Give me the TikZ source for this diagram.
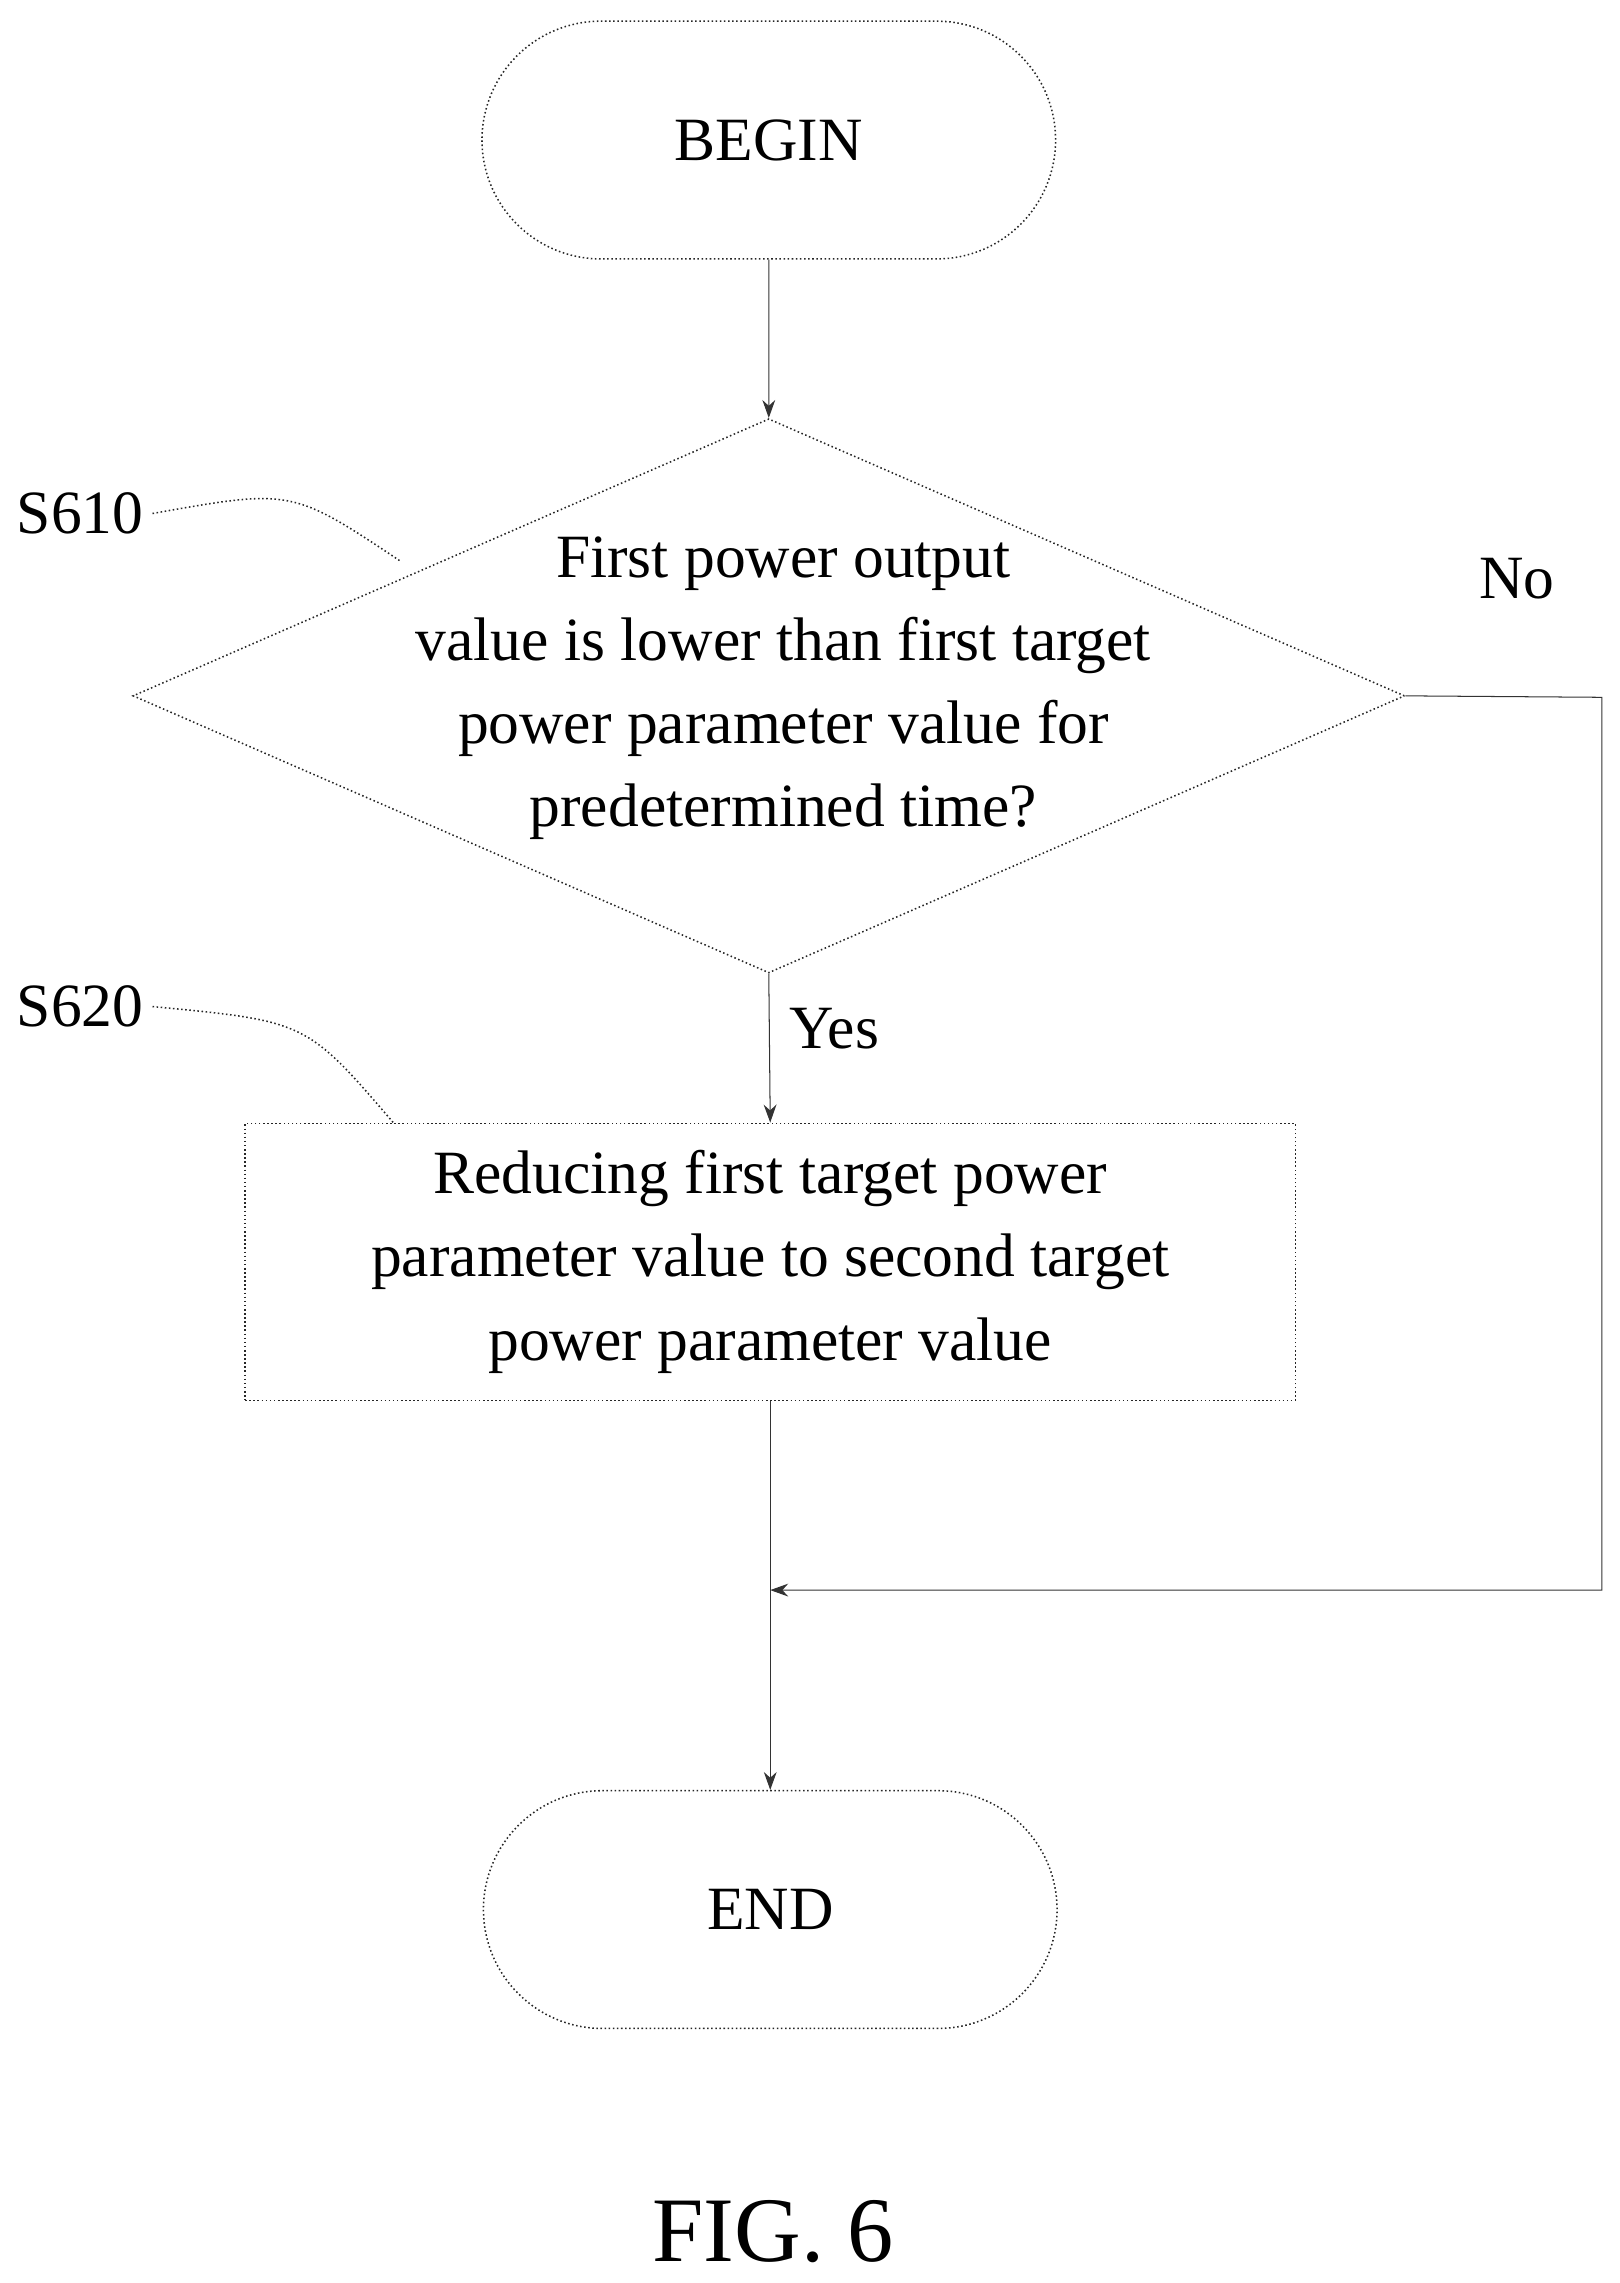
\documentclass[tikz,border=0pt]{standalone}
\usepackage{fontspec}
\setmainfont{Liberation Serif}
\usetikzlibrary{shapes.geometric, shapes.misc, arrows.meta, positioning}
\tikzset{
    terminal/.style={rounded rectangle, draw=black!85, densely dotted, semithick, minimum width=8.1cm, minimum height=3.26cm, text centered},
    decision/.style={diamond, draw=black!85, densely dotted, semithick, minimum width=17.44cm, minimum height=7.6cm, inner sep=0pt},
    process/.style={rectangle, draw=black!85, densely dotted, semithick, minimum width=14.4cm, minimum height=3.8cm, align=center},
    flow/.style={-{Stealth[length=7pt,width=5pt]}, thin, black!80},
    line/.style={thin, black!80},
    tag/.style={semithick, black!85, densely dotted}
}
\begin{document}
\begin{tikzpicture}[x=0.02cm, y=-0.02cm, font=\fontsize{24}{32.4}\selectfont]
    \useasboundingbox (0,0) rectangle (1110,1565);
    % Nodes
    \node[terminal] (begin) at (527,96) {BEGIN};
    \node[decision] (check) at (527,477) {};
    \node[align=center] (checktxt) at (537,472) {First power output\\value is lower than first target\\power parameter value for\\predetermined time?};
    \node[process] (reduce) at (528,865) {Reducing first target power\\parameter value to second target\\power parameter value};
    \node[terminal] (end) at (528,1309) {END};
    \coordinate (merge) at (528,1090);
    \coordinate (corner) at (1098,478);

    % Labels
    \node (s610) at (55,352) {S610};
    \node (s620) at (55,690) {S620};
    \node (no) at (1040,397) {No};
    \node (yes) at (572,705) {Yes};
    \node[font=\fontsize{36}{44}\selectfont] (fig) at (530,1530) {FIG. 6};

    % Connections
    \draw[flow] (begin) -- (check.north);
    \draw[flow] (check.south) -- (reduce.north);
    \draw[line] (reduce.south) -- (merge);
    \draw[flow] (merge) -- (end.north);
    \draw[flow] (check.east) -- (corner) |- (merge);
    \draw[tag] (s610.east) .. controls (200,335) .. (275,385);
    \draw[tag] (s620.east) .. controls (210,700) .. (270,770);
\end{tikzpicture}
\end{document}
